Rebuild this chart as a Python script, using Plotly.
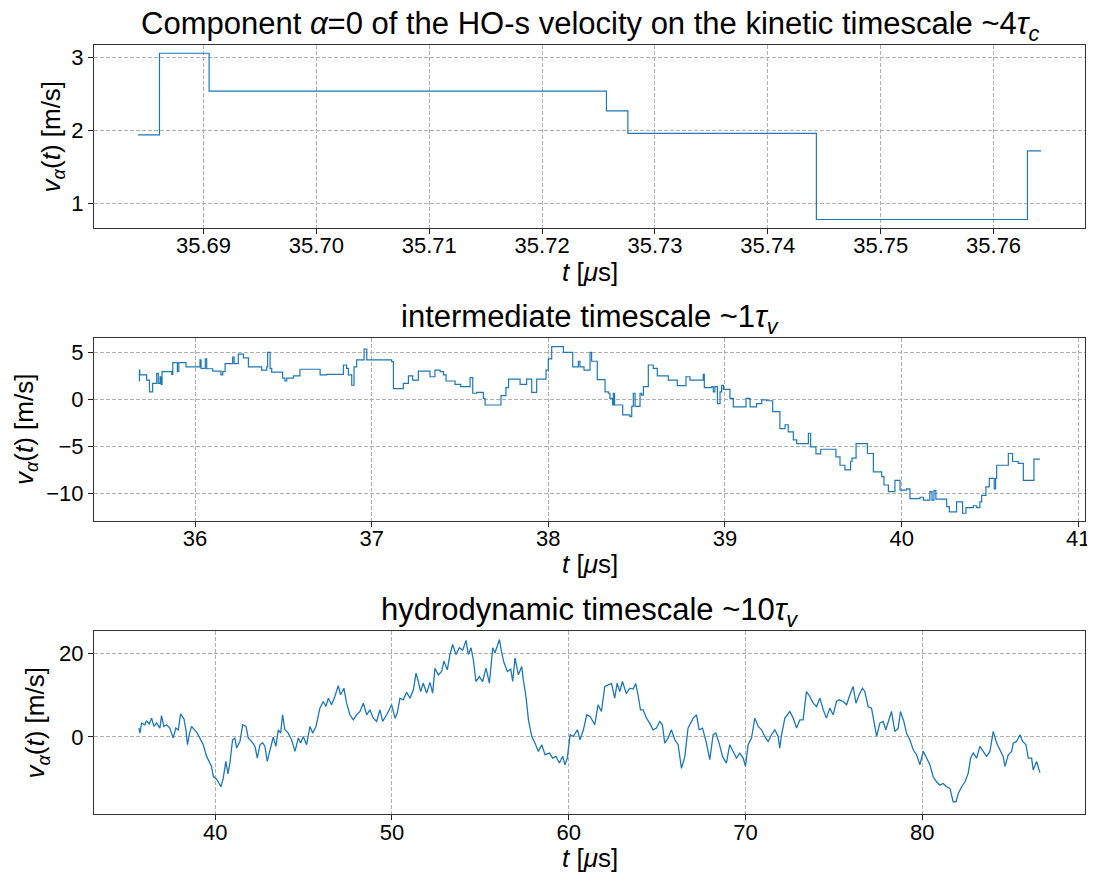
import plotly.graph_objects as go

# kinetic timescale (step data)
t_kin = [35.6842, 35.6861, 35.6905, 35.7257, 35.7276, 35.7443, 35.7630, 35.7642]
v_kin = [1.94, 3.06, 2.54, 2.27, 1.96, 0.78, 1.72, 1.72]

# intermediate timescale (step data)
t_int = [35.683, 35.685, 35.687, 35.726, 35.742, 35.760, 35.783, 35.792, 35.802, 35.808,
         35.813, 35.868, 35.874, 35.900, 35.908, 35.949, 36.028, 36.034, 36.058, 36.066,
         36.100, 36.147, 36.157, 36.170, 36.213, 36.221, 36.245, 36.274, 36.302, 36.377,
         36.406, 36.411, 36.425, 36.434, 36.496, 36.509, 36.519, 36.557, 36.594, 36.708,
         36.745, 36.840, 36.858, 36.868, 36.887, 36.900, 36.915, 36.957, 36.972, 37.113,
         37.123, 37.179, 37.208, 37.232, 37.264, 37.330, 37.358, 37.387, 37.406, 37.421,
         37.472, 37.504, 37.557, 37.572, 37.594, 37.632, 37.642, 37.732, 37.760, 37.775,
         37.840, 37.877, 37.906, 37.934, 37.987, 38.000, 38.019, 38.085, 38.138, 38.170,
         38.179, 38.202, 38.236, 38.245, 38.277, 38.321, 38.340, 38.349, 38.364, 38.368,
         38.375, 38.421, 38.462, 38.472, 38.481, 38.491, 38.519, 38.528, 38.538, 38.566,
         38.594, 38.617, 38.679, 38.730, 38.779, 38.802, 38.877, 38.883, 38.925, 38.934,
         38.943, 38.957, 38.972, 38.981, 38.991, 39.028, 39.047, 39.119, 39.142, 39.179,
         39.208, 39.236, 39.270, 39.311, 39.340, 39.358, 39.387, 39.406, 39.472, 39.485,
         39.515, 39.542, 39.628, 39.651, 39.679, 39.711, 39.719, 39.742, 39.806, 39.840,
         39.887, 39.900, 39.925, 39.962, 39.991, 40.028, 40.047, 40.104, 40.123, 40.160,
         40.172, 40.183, 40.194, 40.255, 40.270, 40.311, 40.345, 40.364, 40.406, 40.425,
         40.443, 40.453, 40.477, 40.496, 40.524, 40.532, 40.538, 40.604, 40.628, 40.660,
         40.689, 40.749, 40.783]
v_int = [1.95, 3.1, 2.6, 2.05, 0.8, 1.7, 2.75, 1.7, 2.4, 1.6,
         2.95, 2.65, 3.9, 2.95, 3.9, 3.45, 4.2, 3.3, 4.3, 3.25,
         3.0, 2.6, 2.95, 3.8, 4.5, 3.8, 4.8, 4.4, 3.45, 3.1,
         3.45, 5.0, 3.3, 2.9, 2.25, 1.95, 2.25, 2.5, 3.2, 2.6,
         2.65, 3.65, 3.3, 2.6, 1.5, 3.45, 4.2, 5.35, 4.2, 4.0,
         1.15, 1.7, 2.5, 2.05, 3.0, 2.4, 3.1, 2.95, 2.6, 1.95,
         1.6, 1.35, 2.3, 0.65, 0.75, 0.1, -0.6, 0.4, 1.25, 2.15,
         1.6, 2.15, 0.75, 2.15, 3.1, 4.3, 5.6, 5.0, 3.45, 4.05,
         3.45, 3.1, 5.0, 4.05, 2.1, 0.8, 0.65, 0.1, -0.6, 0.65,
         -0.6, -1.65, -1.85, -0.75, 0.65, -0.75, 0.65, 0.45, 1.35, 3.65,
         3.3, 2.5, 2.05, 1.45, 2.4, 2.05, 2.65, 1.25, 1.35, 0.8,
         1.35, -0.45, 0.8, 1.5, 1.05, 0.1, -0.8, 0.1, -0.8, -0.45,
         -0.05, -0.15, -1.3, -3.1, -2.7, -3.45, -4.3, -4.7, -3.6, -5.05,
         -5.8, -5.3, -6.1, -7.0, -7.5, -6.6, -6.25, -4.7, -5.75, -7.7,
         -8.2, -9.1, -9.8, -8.6, -9.65, -9.5, -10.55, -10.4, -10.7, -9.8,
         -10.7, -9.7, -10.6, -11.4, -11.95, -10.9, -12.1, -11.5, -11.3, -11.5,
         -10.9, -10.2, -9.3, -8.4, -9.5, -8.4, -7.0, -5.75, -6.6, -6.8,
         -8.6, -6.35, -6.35]

# hydrodynamic timescale
t_hyd = [35.68, 35.74, 35.83, 36.02, 36.11, 36.26, 36.40, 36.53, 36.68, 36.87,
         36.96, 37.09, 37.25, 37.43, 37.62, 37.77, 37.91, 38.04, 38.23, 38.34,
         38.43, 38.53, 38.66, 38.85, 38.98, 39.13, 39.32, 39.51, 39.66, 39.79,
         39.89, 40.08, 40.32, 40.45, 40.60, 40.72, 40.83, 40.98, 41.11, 41.21,
         41.40, 41.55, 41.74, 41.87, 42.06, 42.25, 42.38, 42.53, 42.68, 42.81,
         42.94, 43.09, 43.28, 43.43, 43.57, 43.70, 43.81, 43.94, 44.13, 44.32,
         44.51, 44.70, 44.83, 44.98, 45.17, 45.36, 45.51, 45.70, 45.92, 46.11,
         46.26, 46.40, 46.58, 46.77, 46.96, 47.09, 47.28, 47.43, 47.62, 47.81,
         48.00, 48.19, 48.38, 48.57, 48.75, 48.94, 49.13, 49.32, 49.47, 49.70,
         49.89, 49.98, 50.17, 50.30, 50.45, 50.64, 50.83, 51.02, 51.21, 51.36,
         51.49, 51.62, 51.77, 51.96, 52.15, 52.30, 52.43, 52.62, 52.81, 52.94,
         53.13, 53.28, 53.43, 53.62, 53.81, 54.00, 54.19, 54.32, 54.47, 54.60,
         54.75, 54.94, 55.13, 55.32, 55.51, 55.70, 55.83, 56.08, 56.21, 56.34,
         56.53, 56.72, 56.83, 56.96, 57.15, 57.34, 57.43, 57.58, 57.72, 57.91,
         58.09, 58.28, 58.47, 58.66, 58.91, 59.09, 59.28, 59.47, 59.66, 59.79,
         59.92, 60.08, 60.26, 60.49, 60.64, 60.83, 61.02, 61.21,
         61.47, 61.66, 61.85, 62.04, 62.23, 62.42, 62.60, 62.74, 62.89, 63.04,
         63.26, 63.45, 63.64, 63.79, 63.92, 64.06, 64.21, 64.40, 64.58, 64.77,
         64.96, 65.15, 65.30, 65.43, 65.62, 65.81, 66.00, 66.19, 66.38, 66.57,
         66.75, 67.04, 67.23, 67.38, 67.57, 67.79, 67.98, 68.17, 68.32, 68.51,
         68.70, 68.92, 69.11, 69.30, 69.49, 69.68, 69.87, 70.00, 70.15, 70.34,
         70.53, 70.72, 70.91, 71.09, 71.28, 71.47, 71.66, 71.85, 71.94, 72.04,
         72.23, 72.51, 72.70, 72.89, 73.08, 73.26, 73.45, 73.64, 73.83, 74.02,
         74.21, 74.40, 74.58, 74.77, 74.96, 75.15, 75.30, 75.53, 75.72, 75.91,
         76.09, 76.25, 76.43, 76.62, 76.75, 76.94, 77.13, 77.32, 77.42, 77.60,
         77.79, 77.94, 78.08, 78.26, 78.45, 78.64, 78.77, 78.96, 79.11, 79.30,
         79.49, 79.68, 79.87, 80.06, 80.25, 80.43, 80.62, 80.81, 81.00, 81.19,
         81.38, 81.57, 81.75, 81.91, 82.04, 82.23, 82.42, 82.60, 82.74, 82.89,
         83.08, 83.26, 83.45, 83.64, 83.83, 84.02, 84.21, 84.40, 84.58, 84.68,
         84.87, 85.06, 85.15, 85.34, 85.53, 85.68, 85.87, 86.00, 86.19, 86.28,
         86.47, 86.66]
v_hyd = [2.1, 0.9, 3.3, 2.9, 3.9, 3.1, 4.5, 2.5, 3.3, 2.1,
         5.1, 2.5, 2.9, 2.1, -0.3, 2.1, 1.7, 5.5, 4.3, 1.7,
         -1.9, 0.5, 2.5, 1.7, 0.9, -0.3, -1.9, -4.7, -5.9, -7.1,
         -9.5, -10.2, -12.0, -10.0, -5.9, -8.9, -6.3, -0.7, -0.3, -2.7,
         -1.1, 2.9, 2.5, -0.3, -1.1, -2.3, -5.1, -1.9, -1.4, -2.3,
         -5.9, -3.5, -0.1, -2.3, 1.7, 0.9, 5.3, 1.7, 0.9, -0.7,
         -3.5, -0.3, -1.5, 0.1, -1.9, 2.5, 0.9, 2.5, 6.9, 8.5,
         7.3, 9.3, 7.7, 9.7, 12.3, 10.1, 11.7, 8.1, 5.3, 4.1,
         5.3, 6.1, 8.1, 5.3, 6.5, 4.5, 3.7, 6.5, 3.7, 5.3,
         6.9, 7.7, 4.5, 5.7, 9.3, 8.9, 10.7, 9.3, 11.3, 15.3,
         13.3, 10.9, 12.9, 10.5, 13.1, 10.5, 16.5, 14.9, 15.7, 18.2,
         16.1, 19.8, 22.2, 19.8, 21.4, 20.8, 23.2, 19.8, 21.4, 18.6,
         13.3, 14.5, 13.3, 16.5, 12.9, 21.4, 20.2, 23.4, 20.2, 17.8,
         15.7, 16.3, 13.3, 19.0, 14.9, 16.9, 13.7, 9.7, 4.1, 0.1,
         -1.5, -3.5, -1.9, -4.3, -3.9, -5.1, -4.7, -6.3, -4.7, -6.7,
         -5.1, 0.5, 0.1, 1.7, -0.7, 1.7, 5.3, 4.9,
         2.9, 7.7, 6.1, 12.1, 12.5, 12.8, 9.3, 12.9, 10.9, 13.3,
         10.4, 11.7, 11.5, 12.8, 10.1, 6.5, 6.5, 4.5, 3.3, 1.7,
         2.1, 3.7, 2.9, -1.5, -0.3, 1.7, -0.7, -1.9, -7.6, -4.7,
         2.1, 4.5, 5.3, 1.7, 2.1, -1.5, -5.5, 0.5, 0.9, -1.5,
         -4.7, -6.3, -1.9, -3.5, -5.1, -3.9, -5.1, -7.1, -1.9, -0.3,
         4.5, 2.5, 1.7, 0.1, -1.1, 0.5, 1.7, 0.1, -2.7, 0.5,
         4.5, 6.1, 4.5, 2.1, 4.1, 4.1, 10.9, 9.7, 8.1, 7.3,
         9.3, 6.5, 4.5, 6.9, 5.3, 8.5, 8.9, 8.5, 7.7, 10.1,
         12.1, 8.1, 10.1, 11.7, 10.9, 7.3, 6.9, 2.5, 0.1, 3.3,
         3.7, 1.7, 3.7, 6.1, 1.3, 2.1, 6.1, 3.7, 0.9, -0.7,
         -3.1, -4.3, -6.7, -3.5, -5.1, -6.7, -9.6, -10.8, -11.6, -11.2,
         -12.0, -12.4, -15.6, -15.6, -13.6, -12.0, -10.8, -8.8, -5.1, -3.9,
         -5.1, -2.3, -3.5, -4.7, -3.5, 1.3, -1.5, -3.1, -4.7, -7.1,
         -4.3, -3.5, -1.5, -1.1, 0.5, -1.1, -1.9, -5.1, -5.1, -8.0,
         -5.9, -8.6]

titles = ["Component <i>α</i>=0 of the HO-s velocity on the kinetic timescale ~4<i>τ</i><sub><i>c</i></sub>",
          "intermediate timescale ~1<i>τ</i><sub><i>v</i></sub>",
          "hydrodynamic timescale ~10<i>τ</i><sub><i>v</i></sub>"]
ylabel = "<i>v</i><sub><i>α</i></sub>(<i>t</i>) [m/s]"
xlabel = "<i>t</i> [<i>μ</i>s]"

# the page body keeps its default 8px margin, so the figure is drawn 8px in
OFF = 8
W, H = 1095 - OFF, 882 - 2 * OFF
FONT = "Liberation Sans, Arial, sans-serif"
BLUE = "#1f77b4"

# plot area in window pixels
PL, PR, PT, PB = 94, 1085, 44.7, 814.5
PW, PH = PR - PL, PB - PT

# window-pixel boxes of the three axes: (top, bottom)
rows = [(44.7, 227.7), (337.7, 520.7), (631.5, 814.5)]
ylabel_x = [52, 25, 37]

xranges = [[35.6803, 35.7681], [35.428, 41.038], [33.14, 89.21]]
yranges = [[0.666, 3.173], [-12.87, 6.55], [-18.55, 25.4]]
xdticks = [0.01, 1, 10]
ydticks = [1, 5, 20]
xformats = [".2f", "d", "d"]


def px(x):
    return (x - PL) / PW


def py(y):
    return (PB - y) / PH


def axis(rng, dtick, fmt=None, **kw):
    d = dict(range=rng, dtick=dtick, tick0=0, showline=True, mirror=True,
             linecolor="#333333", linewidth=1.2, ticks="outside", ticklen=5,
             tickwidth=1.1, tickcolor="#222222", showgrid=True, gridcolor="#b0b0b0",
             gridwidth=1, griddash="4px,2px", zeroline=False, automargin=False,
             ticklabeloverflow="allow",
             tickfont=dict(family=FONT, size=22, color="black"))
    if fmt:
        d["tickformat"] = fmt
    d.update(kw)
    return d


fig = go.Figure()
series = [(t_kin, v_kin, "hv"), (t_int, v_int, "hv"), (t_hyd, v_hyd, "linear")]
layout = {}
annotations = []
for i, (tt, vv, shape) in enumerate(series):
    n = "" if i == 0 else str(i + 1)
    fig.add_trace(go.Scatter(x=tt, y=vv, mode="lines",
                             line=dict(color=BLUE, width=1.3 if i == 2 else 1.2, shape=shape),
                             xaxis="x" + n, yaxis="y" + n, showlegend=False))
    top, bot = rows[i]
    layout["xaxis" + n] = axis(xranges[i], xdticks[i], xformats[i], ticklabelstandoff=-7,
                               domain=[0, 1], anchor="y" + n)
    layout["yaxis" + n] = axis(yranges[i], ydticks[i],
                               domain=[py(bot), py(top)], anchor="x" + n)
    cx = px((PL + PR) / 2)
    annotations.append(dict(text=titles[i], x=cx, y=py(top), xref="paper", yref="paper",
                            xanchor="center", yanchor="bottom", yshift=-3, showarrow=False,
                            font=dict(family=FONT, size=31, color="black")))
    annotations.append(dict(text=xlabel, x=cx, y=py(bot + 44), xref="paper", yref="paper",
                            xanchor="center", yanchor="middle", showarrow=False,
                            font=dict(family=FONT, size=26, color="black")))
    annotations.append(dict(text=ylabel, x=px(ylabel_x[i]), y=py((top + bot) / 2),
                            xref="paper", yref="paper", xanchor="center", yanchor="middle",
                            textangle=-90, showarrow=False,
                            font=dict(family=FONT, size=26, color="black")))

fig.update_layout(**layout)
fig.update_layout(width=W, height=H,
                  margin=dict(l=PL - OFF, r=W - (PR - OFF), t=PT - OFF, b=H - (PB - OFF)),
                  plot_bgcolor="white", paper_bgcolor="white",
                  annotations=annotations)

fig.write_html("out.html")
